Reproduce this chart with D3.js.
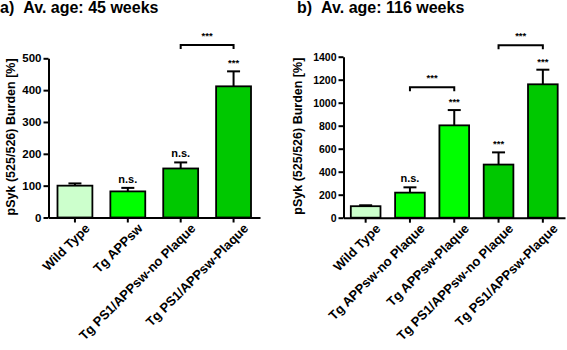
<!DOCTYPE html>
<html>
<head>
<meta charset="utf-8">
<script src="https://cdn.jsdelivr.net/npm/d3@7"></script>
<style>
  body { margin: 0; background: #fff; }
  svg { display: block; font-family: "Liberation Sans", Arial, sans-serif; font-weight: bold; }
</style>
</head>
<body>
<div id="chart"></div>
<script>
// panel a  (45 weeks)
var catsA = ["Wild Type", "Tg APPsw", "Tg PS1/APPsw-no Plaque", "Tg PS1/APPsw-Plaque"];
var meanA = [100, 82, 154, 412];
var errA  = [7, 11, 19, 47];
var sigA  = ["", "n.s.", "n.s.", "***"];
var brackA = [[2, 3, 542, "***"]];
var ticksA = [0, 100, 200, 300, 400, 500];

// panel b  (116 weeks)
var catsB = ["Wild Type", "Tg APPsw-no Plaque", "Tg APPsw-Plaque", "Tg PS1/APPsw-no Plaque", "Tg PS1/APPsw-Plaque"];
var meanB = [100, 218, 803, 462, 1160];
var errB  = [8, 46, 133, 106, 127];
var sigB  = ["", "n.s.", "***", "***", "***"];
var brackB = [[1, 2, 1134, "***"], [3, 4, 1500, "***"]];
var ticksB = [0, 200, 400, 600, 800, 1000, 1200, 1400];

var fillA = ["#ccffcc", "#00ff00", "#00c800", "#00c800"];
var fillB = ["#ccffcc", "#00ff00", "#00ff00", "#00c800", "#00c800"];

var svg = d3.select("#chart").append("svg")
    .attr("width", 567).attr("height", 350);

function panel(o) {
  var g = svg.append("g");
  var x = d3.scaleBand().domain(o.cats).range([o.x0, o.x1]).padding(0);
  var y = d3.scaleLinear().domain([0, o.ticks[o.ticks.length - 1]]).range([o.y0, o.y1]);
  var bw = x.bandwidth() * o.bar;

  var t = g.append("text").attr("x", o.tx).attr("y", 13).style("font-size", "16px");
  t.append("tspan").text(o.letter);
  t.append("tspan").attr("dx", 9).text(o.title);

  g.append("text")
    .attr("transform", "translate(" + o.lx + "," + ((o.y0 + o.y1) / 2 - 1) + ") rotate(-90)")
    .attr("text-anchor", "middle").attr("dy", "0.35em")
    .style("font-size", "12.5px").text("pSyk (525/526) Burden [%]");

  // bars + error bars
  o.cats.forEach(function(c, i) {
    var cx = x(c) + x.bandwidth() / 2;
    var top = y(o.mean[i] + o.err[i]);
    g.append("line").attr("x1", cx).attr("x2", cx)
      .attr("y1", y(o.mean[i])).attr("y2", top)
      .attr("stroke", "#000").attr("stroke-width", 2);
    g.append("line").attr("x1", cx - 6.5).attr("x2", cx + 6.5)
      .attr("y1", top).attr("y2", top)
      .attr("stroke", "#000").attr("stroke-width", 2);
    g.append("rect")
      .attr("x", cx - bw / 2).attr("y", y(o.mean[i]))
      .attr("width", bw).attr("height", y(0) - y(o.mean[i]))
      .attr("fill", o.fill[i]).attr("stroke", "#000").attr("stroke-width", 1.8);
    if (o.sig[i]) {
      var star = o.sig[i] == "***";
      g.append("text").attr("x", cx).attr("y", top - 5)
        .attr("text-anchor", "middle")
        .style("font-size", star ? "9.5px" : "11px")
        .text(o.sig[i]);
    }
  });

  // brackets
  o.brack.forEach(function(b) {
    var xa = x(o.cats[b[0]]) + x.bandwidth() / 2;
    var xb = x(o.cats[b[1]]) + x.bandwidth() / 2;
    var yy = y(b[2]);
    g.append("path")
      .attr("d", "M" + xa + "," + (yy + 4) + "V" + yy + "H" + xb + "V" + (yy + 4))
      .attr("fill", "none").attr("stroke", "#000").attr("stroke-width", 2);
    g.append("text").attr("x", (xa + xb) / 2).attr("y", yy - 6)
      .attr("text-anchor", "middle").style("font-size", "9.5px").text(b[3]);
  });

  var ya = g.append("g").attr("transform", "translate(" + o.x0 + ",0)")
    .call(d3.axisLeft(y).tickValues(o.ticks).tickFormat(d3.format("d"))
      .tickSize(5).tickSizeOuter(0).tickPadding(2));
  ya.selectAll("text").style("font-size", o.tf).style("font-family", "Liberation Sans, Arial").attr("fill", "#000");

  var xa = g.append("g").attr("transform", "translate(0," + o.y0 + ")")
    .call(d3.axisBottom(x).tickSize(5).tickSizeOuter(0));
  xa.selectAll("text")
    .style("font-size", "13px").style("font-family", "Liberation Sans, Arial")
    .attr("fill", "#000")
    .attr("text-anchor", "end")
    .attr("transform", "translate(5,1) rotate(-45)")
    .attr("dy", "0.7em").attr("y", 6).attr("x", 0);

  g.selectAll(".domain, .tick line").attr("stroke", "#000").attr("stroke-width", 2);
}

panel({
  cats: catsA, mean: meanA, err: errA, sig: sigA, brack: brackA, ticks: ticksA, fill: fillA,
  x0: 48.5, x1: 260, y0: 217.5, y1: 58.3, bar: 0.66, tf: "11.5px",
  letter: "a)", title: "Av. age: 45 weeks", tx: 0, lx: 11
});
panel({
  cats: catsB, mean: meanB, err: errB, sig: sigB, brack: brackB, ticks: ticksB, fill: fillB,
  x0: 343.5, x1: 565, y0: 217.7, y1: 56.7, bar: 0.67, tf: "10.5px",
  letter: "b)", title: "Av. age: 116 weeks", tx: 297, lx: 298
});
</script>
</body>
</html>
